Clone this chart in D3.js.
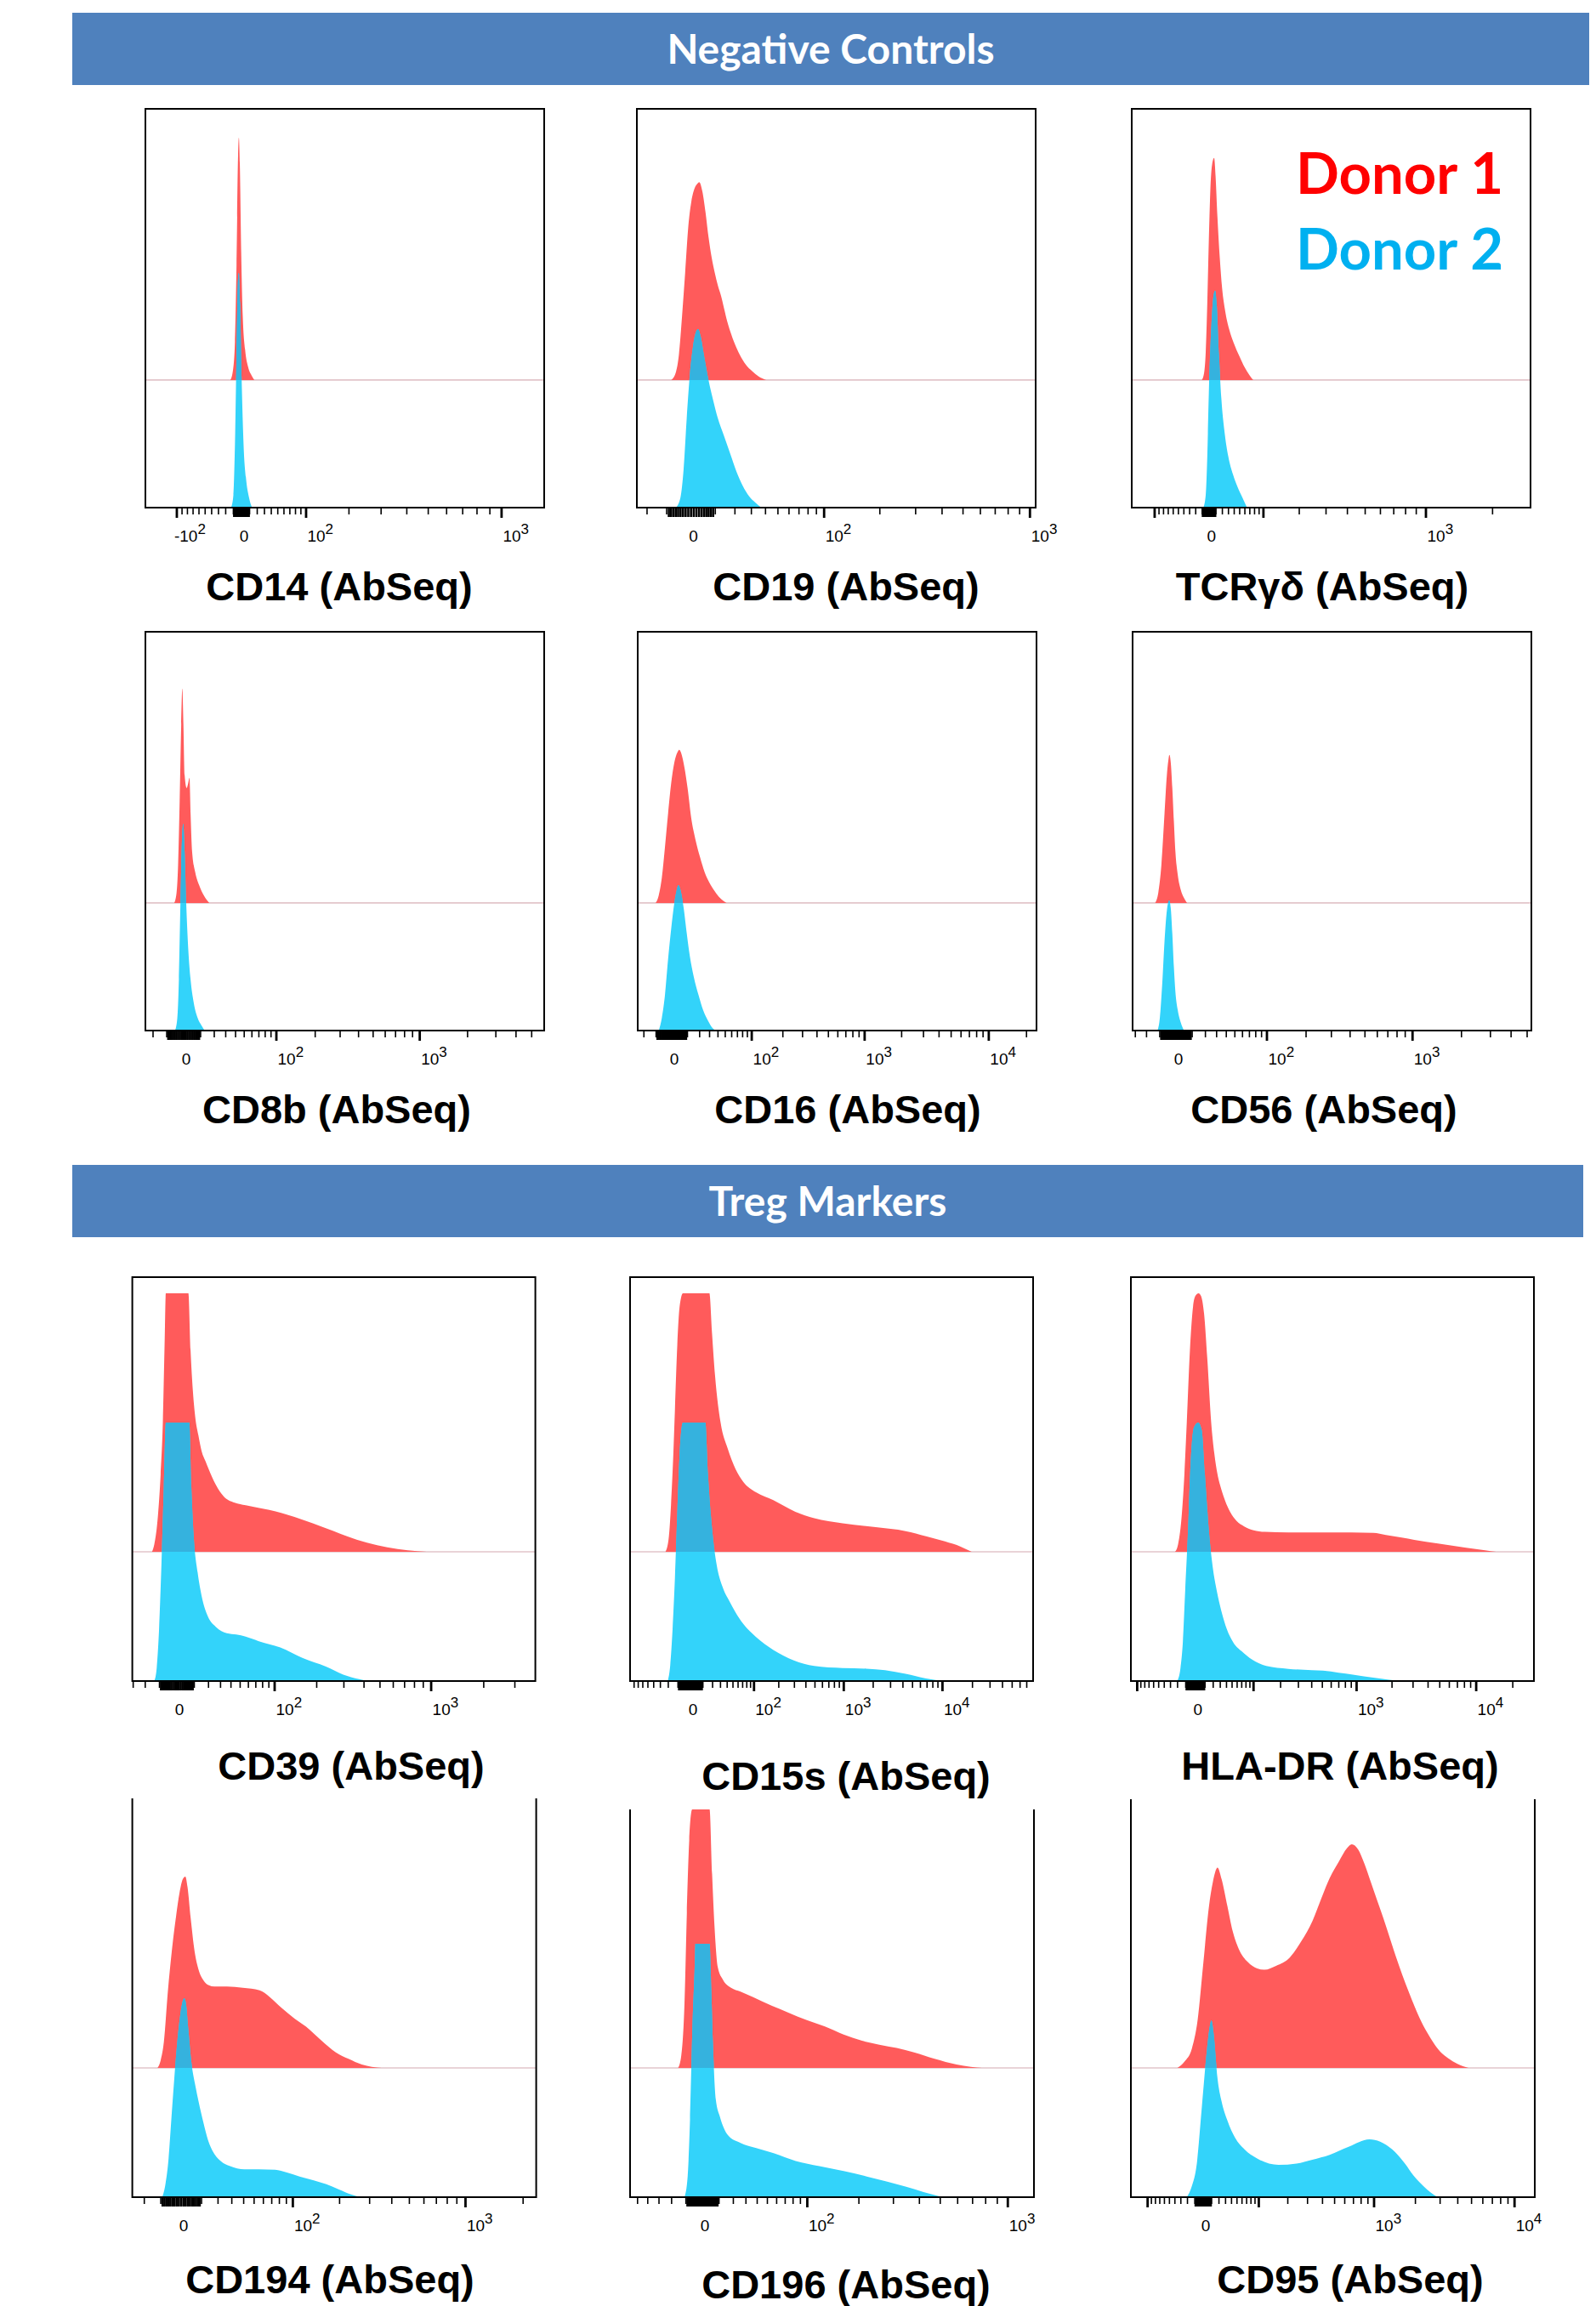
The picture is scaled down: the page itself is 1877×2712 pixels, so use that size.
<!DOCTYPE html>
<html><head><meta charset="utf-8">
<script src="https://cdn.jsdelivr.net/npm/d3@7"></script>
<style>html,body{margin:0;padding:0;background:#fff}</style>
</head><body>
<svg id="chart" width="1877" height="2712"></svg>
<script>
// ================= DATA =================
const markers = ["CD14","CD19","TCRgd","CD8b","CD16","CD56","CD39","CD15s","HLADR","CD194","CD196","CD95"];
const titles = ["CD14 (AbSeq)","CD19 (AbSeq)","TCRγδ (AbSeq)","CD8b (AbSeq)","CD16 (AbSeq)","CD56 (AbSeq)",
                "CD39 (AbSeq)","CD15s (AbSeq)","HLA-DR (AbSeq)","CD194 (AbSeq)","CD196 (AbSeq)","CD95 (AbSeq)"];
const sectionTitles = ["Negative Controls","Treg Markers"];
const seriesNames = ["Donor 1","Donor 2"];

// biexponential-like display axis (symlog) per panel: linear width constant and intensity extent
const axisConstant = [154, 37, 150, 37, 30, 40, 40, 30, 50, 37, 59, 70];
const axisMin = [-170, -26, -160, -26.5, -26, -32.7, -30.8, -90.7, -119, -28.6, -58, -152];
const axisMax = [1451, 1060, 2921, 5972, 24030, 5303, 3912, 81060, 29850, 2338, 1297, 13840];
const tickLabelValues = [
  [-100, 0, 100, 1000], [0, 100, 1000], [0, 1000],
  [0, 100, 1000], [0, 100, 1000, 10000], [0, 100, 1000],
  [0, 100, 1000], [0, 100, 1000, 10000], [0, 1000, 10000],
  [0, 100, 1000], [0, 100, 1000], [0, 1000, 10000]
];

// histograms: [display channel (0-256), % of mode]
const d1_CD14 = [[54.5,0],[56,3],[57.5,15],[58.5,45],[59.5,88],[60,95],[60.6,85],[61.5,50],[62.5,25],[64,12],[66,5],[68,2],[70,0]];
const d2_CD14 = [[55,0],[56.5,5],[57.5,25],[58.5,60],[59.5,90],[60,92],[60.8,80],[61.8,50],[63,25],[64.5,12],[66.5,4],[68.5,0]];
const d1_CD19 = [[22,0],[25,3],[27,10],[29,25],[31,42],[33,60],[35,70],[37,75],[39,77],[40,77.5],[42,74],[44,66],[46,56],[48,48],[50,42],[52,37],[54,33],[56,28],[58,23],[60,19],[63,14],[66,10],[70,6],[74,3.5],[78,1.5],[83,0]];
const d2_CD19 = [[25,0],[28,4],[30,15],[32,35],[34,52],[36,63],[38,69],[39.3,70],[41,67],[43,60],[46,50],[49,42],[52,35],[56,28],[60,21],[64,14],[68,8.5],[72,4.5],[76,2],[80,0]];
const d1_TCRgd = [[45,0],[46.5,3],[47.5,11],[48.5,30],[49.5,55],[50.5,75],[51.5,84],[52.9,87],[53.8,80],[55,64],[56.5,48],[58,36],[60,27],[62.5,20],[65.5,14.5],[69,9.5],[72.5,5],[75.5,2],[78,0]];
const d2_TCRgd = [[46,0],[47.5,5],[48.5,20],[49.5,45],[51,70],[52.5,83],[53.5,85],[54.5,80],[56,60],[57.5,43],[59.5,30],[62,20],[65,13],[68,8],[71,4],[74,0]];
const d1_CD8b = [[18.5,0],[20,4],[21,15],[22,40],[23,70],[23.7,84],[24.4,70],[25.2,50],[26.5,45],[27.5,47],[28.3,49],[29,35],[30,20],[32,12],[34.5,7],[37.5,3],[41,0]];
const d2_CD8b = [[19,0],[20.5,5],[21.5,20],[22.5,50],[23.5,75],[24.3,81],[25.2,70],[26.2,50],[27.5,32],[29,20],[31,11],[33.5,5],[36,2],[38,0]];
const d1_CD16 = [[11.5,0],[13.5,3],[15.5,10],[17.5,22],[19.5,35],[21.5,47],[23.5,55],[25.5,59],[26.7,60],[28,58.5],[30,53],[32,45],[34.4,33],[37,25],[40,18],[43,12],[46,8],[49,5],[52,2.5],[55,0.8],[57,0]];
const d2_CD16 = [[13.5,0],[15.5,5],[17.5,14],[19.5,28],[21.5,40],[23.5,50],[25,55],[26.1,57],[27.5,55],[29.5,48],[31.5,38],[33.5,29],[36,21],[39,14],[42,8],[45,4],[48,1],[50,0]];
const d1_CD56 = [[14.5,0],[16.5,4],[18.5,15],[20.5,35],[22,50],[23,56],[23.6,58],[24.5,55],[25.5,45],[26.5,32],[27.5,20],[29,11],[31,5],[33,2],[35,0]];
const d2_CD56 = [[16,0],[17.5,5],[19,18],[20.5,35],[22,47],[23.5,51],[24.5,48],[25.5,38],[26.5,25],[27.5,15],[29,8],[31,3],[33,0]];
const d1_CD39 = [[12.5,0],[14,3],[16,12],[18,30],[19.4,50],[20.5,80],[21.3,100],[35.6,100],[37,78],[38.5,62],[40,52],[42,45],[44,39],[46.5,35],[48.5,32],[53,26],[58,21.5],[65,19],[72,18],[80,17],[87,16.2],[95,15],[103,13.5],[110,12],[120,9.8],[128,8],[136,6.1],[149,3.5],[162,1.7],[175,0.6],[187,0]];
const d2_CD39 = [[14,0],[15.5,5],[17,20],[18.5,45],[20,75],[21.3,100],[36.2,100],[37.5,75],[39,56],[41.5,42],[44,33],[48,25],[53,21],[60,18.5],[66,18],[72,17.2],[80,15.5],[94,13],[108,9],[123,5.6],[134,2.5],[144,0.7],[149,0]];
const d1_CD15s = [[22.5,0],[24.5,5],[26,18],[27.5,38],[28.5,55],[30,80],[31.5,95],[33.6,100],[50.4,100],[52,85],[54,68],[57.5,50],[62,40],[67,32],[72,27],[80,23],[91,20],[105,15.5],[117,13],[135,11],[156,9.5],[175,8],[188,6],[200,4],[210,2],[217,0]];
const d2_CD15s = [[24,0],[25.5,6],[27,20],[28.5,40],[30,65],[31.5,88],[33.6,100],[47.8,100],[49.5,80],[52.4,57],[55,45],[59,36],[63,31],[66.6,27],[72,22],[80,17],[91,12],[104,8],[117,5.8],[135,5],[150,4.8],[162,4.2],[175,2.8],[188,1],[198,0]];
const d1_HLADR = [[28,0],[30,3],[32,12],[34,30],[35.5,50],[37.5,78],[39.5,95],[41,99],[43,100],[44.5,99],[46.5,92],[48.5,75],[51,50],[53,38],[55,30],[57.5,24],[60,19.5],[63,15.5],[67,12],[72,9.8],[78,8.3],[85,7.7],[100,7.5],[120,7.5],[140,7.5],[154,7.3],[162,6.5],[172,5.5],[180,4.6],[195,3.2],[213,1.6],[225,0.6],[232,0]];
const d2_HLADR = [[29.5,0],[31.5,5],[33,15],[34.5,35],[36.2,57],[38,85],[40,98],[42.7,100],[45,97],[47,80],[49.7,57],[52,44],[54.5,35],[57.5,27],[61,20],[65,15],[70.4,11.5],[77,8.3],[86,5.8],[100,4.7],[115,4.2],[122,4],[132,3.2],[141,2.5],[155,1.2],[171,0]];
const d1_CD194 = [[16,0],[18,3],[20,10],[22.6,30],[25,45],[27.8,59],[30,68],[32,73],[33.6,74],[35,70],[37,58],[39.5,45],[42,38],[45,34],[48.5,32],[52,31.5],[60,31.5],[70,31],[80.7,30],[87,27.5],[95,23],[103,19],[110,16],[120,10.5],[129,6],[137,3.5],[145.5,1.3],[158,0]];
const d2_CD194 = [[19,0],[21,5],[23,15],[24.5,28],[26.5,45],[28.5,60],[30.5,71],[32,76],[33,77],[34,75],[35.5,65],[37.5,52],[40,43],[42,37],[45,29],[48,22],[51.7,17],[56,14],[62,12],[71,10.8],[80,10.8],[90.5,10.6],[98,9.5],[106,8],[115,6.5],[123,5],[131,3],[139,1],[145,0]];
const d1_CD196 = [[30.5,0],[32.5,5],[34.5,25],[36,60],[37.5,88],[39.4,100],[50.4,100],[52,75],[53.5,55],[55.6,39],[59,34],[64,31],[70,29.5],[78,27.4],[90,24],[100,21.5],[112,18.5],[123.5,16],[135,13],[147,10.5],[158,9],[169,7.7],[180,6],[193,3.5],[207,1.3],[216,0.4],[223,0]];
const d2_CD196 = [[34.5,0],[36.5,8],[38,30],[39.5,65],[41,90],[41.4,98],[50.4,98],[51.5,80],[52.5,60],[54.3,38],[57,31],[62,24],[70,21],[80,19],[91,17],[105,14],[120,12],[136,10],[150,8],[163,6],[175,4],[186,2],[198,0]];
const d1_CD95 = [[29.5,0],[34,2.5],[38.7,7.6],[42.3,18.5],[45.9,40.5],[49.5,62.5],[52,72],[54.9,77.5],[57.5,73],[61.2,62.5],[64.5,53],[68.4,46],[74,41],[80,38.5],[84.6,38],[92,39.5],[100.8,42.8],[108,49],[115.2,57],[121,66],[126,73.4],[132,80],[137,85],[140,86.5],[144,84.5],[148,79],[152,72],[156,65],[160,58],[164,50.5],[168,43],[172,36],[176,29.6],[180,23.5],[184,18],[188,13.5],[192,9.5],[196,6.3],[201,3.8],[207,1.6],[214,0]];
const d2_CD95 = [[35.5,0],[38.5,4],[41.8,13],[45,35],[48.2,57],[50,66],[51,68.4],[52.5,63],[54.9,46],[57.5,37],[61.2,29.6],[66,23],[72,18.5],[80,15],[93.6,12.5],[105,13],[115,14.5],[126,16.4],[138,19.5],[151.2,22.4],[158,21.5],[165.6,18.5],[173.7,13],[179,8.5],[185.4,4.3],[190,1.8],[194.5,0]];

const donor1 = [d1_CD14,d1_CD19,d1_TCRgd,d1_CD8b,d1_CD16,d1_CD56,d1_CD39,d1_CD15s,d1_HLADR,d1_CD194,d1_CD196,d1_CD95];
const donor2 = [d2_CD14,d2_CD19,d2_TCRgd,d2_CD8b,d2_CD16,d2_CD56,d2_CD39,d2_CD15s,d2_HLADR,d2_CD194,d2_CD196,d2_CD95];

// ================= LAYOUT / STYLE =================
const rowTop = [128, 743, 1502, 2109];
const rowH = [469, 469, 475, 475];
const colLeft = [[171, 749, 1331], [171, 750, 1332], [155.6, 741, 1330], [155.6, 741, 1330]];
const colW = [469, 469, 474, 475];
const row4LineTop = [2115, 2128, 2116];
const titlePos = [[399,706],[995,706],[1555,706],[396,1321],[997,1321],[1557,1321],
                  [413,2093],[995,2105],[1576,2093],[388,2697],[995,2703],[1588,2697]];
const banners = [{x0:85, x1:1869, y0:15, y1:100}, {x0:85, x1:1862, y0:1370, y1:1455}];
const RED = "#FF5B5B", BLUE = "#33D3FA", OVERLAP = "#35B2DE";
const TITLE_FONT = "'Liberation Sans', Arial, sans-serif";
const TICK_FONT = "'Liberation Sans Narrow', 'Arial Narrow', 'Liberation Sans', sans-serif";
const BANNER_FONT = "Lato, 'Open Sans', sans-serif";

const svg = d3.select("#chart");
const defs = svg.append("defs");

// banners
banners.forEach((b, i) => {
  svg.append("rect").attr("x", b.x0).attr("y", b.y0).attr("width", b.x1 - b.x0).attr("height", b.y1 - b.y0)
    .attr("fill", "#4F81BD");
  svg.append("text").attr("x", (b.x0 + b.x1) / 2).attr("y", b.y0 + 60)
    .attr("text-anchor", "middle").attr("fill", "#fff")
    .style("font-family", BANNER_FONT).style("font-weight", "700").style("font-size", "48px")
    .text(sectionTitles[i]);
});

// tick values on the biexponential axis
const tickMultipliers = [1,2,3,4,5,6,7,8,9];
const tickPowers = [1,10,100,1000,10000];

markers.forEach((m, i) => {
  const r = Math.floor(i / 3), c = i % 3;
  const L = colLeft[r][c], W = colW[r], T = rowTop[r], H = rowH[r], B = T + H;
  const mid = B - 0.32 * H;
  const peak = 0.64 * H;
  const x = d3.scaleLinear().domain([0, 256]).range([L, L + W]);
  const yRed = d3.scaleLinear().domain([0, 100]).range([mid, mid - peak]);
  const yBlue = d3.scaleLinear().domain([0, 100]).range([B, B - peak]);
  const axis = d3.scaleSymlog().constant(axisConstant[i]).domain([axisMin[i], axisMax[i]]).range([L, L + W]);

  const g = svg.append("g");
  const clipId = "clip" + i;
  const cTop = r === 3 ? row4LineTop[c] : T;
  defs.append("clipPath").attr("id", clipId).append("rect")
    .attr("x", L).attr("y", cTop).attr("width", W).attr("height", B - cTop);
  const plot = g.append("g").attr("clip-path", `url(#${clipId})`);

  plot.append("line").attr("x1", L).attr("x2", L + W).attr("y1", mid).attr("y2", mid)
    .attr("stroke", "#E2C5CA").attr("stroke-width", 1.6);

  const areaRed = d3.area().curve(d3.curveMonotoneX).x(d => x(d[0])).y0(mid).y1(d => yRed(d[1]));
  const areaBlue = d3.area().curve(d3.curveMonotoneX).x(d => x(d[0])).y0(B).y1(d => yBlue(d[1]));

  const redPath = areaRed(donor1[i]);
  const bluePath = areaBlue(donor2[i]);
  plot.append("path").attr("d", redPath).attr("fill", RED);
  plot.append("path").attr("d", bluePath).attr("fill", BLUE);
  const ovId = "ov" + i;
  defs.append("clipPath").attr("id", ovId).append("path").attr("d", redPath);
  plot.append("g").attr("clip-path", `url(#${ovId})`)
    .append("path").attr("d", bluePath).attr("fill", OVERLAP);

  // frame
  if (r < 3) {
    g.append("rect").attr("x", L).attr("y", T).attr("width", W).attr("height", H)
      .attr("fill", "none").attr("stroke", "#000").attr("stroke-width", 2);
  } else {
    g.append("path").attr("d", `M${L},${cTop}V${B}H${L + W}V${cTop}`)
      .attr("fill", "none").attr("stroke", "#000").attr("stroke-width", 2);
  }

  // ticks
  const [dmin, dmax] = axis.domain();
  const tg = g.append("g");
  const vals = [0];
  tickPowers.forEach(p => tickMultipliers.forEach(k => { vals.push(k * p); vals.push(-k * p); }));
  vals.filter(v => v >= dmin && v <= dmax).forEach(v => {
    const av = Math.abs(v);
    const decade = av >= 100 && Math.abs(Math.log10(av) - Math.round(Math.log10(av))) < 1e-9;
    const nearZero = av < 10;
    const px = axis(v);
    if (px < L + 1 || px > L + W - 1) return;
    const len = decade ? 12 : (nearZero ? 11 : 8);
    const sw = decade ? 2.8 : (nearZero ? 2.6 : 1.6);
    tg.append("line").attr("x1", px).attr("x2", px).attr("y1", B).attr("y2", B + len)
      .attr("stroke", "#000").attr("stroke-width", sw);
  });

  // tick labels
  tickLabelValues[i].forEach(v => {
    const px = axis(v);
    const t = tg.append("text").attr("y", B + 40)
      .style("font-family", TICK_FONT).style("font-size", "19px").attr("fill", "#000");
    if (v === 0) {
      t.attr("x", px + 3).attr("text-anchor", "middle").text("0");
    } else {
      const e = Math.round(Math.log10(Math.abs(v)));
      t.attr("x", px + (v < 0 ? -3 : 1.5)).attr("text-anchor", "start");
      t.append("tspan").text(v < 0 ? "-10" : "10");
      t.append("tspan").attr("dy", -9).style("font-size", "17px").text(e);
    }
  });

  // title
  svg.append("text").attr("x", titlePos[i][0]).attr("y", titlePos[i][1]).attr("text-anchor", "middle")
    .style("font-family", TITLE_FONT).style("font-weight", "700").style("font-size", "47px")
    .attr("fill", "#000").text(titles[i]);
});

// legend
const legendColors = ["#FF0000", "#00B0F0"];
seriesNames.forEach((s, i) => {
  svg.append("text").attr("x", 1524).attr("y", 228 + i * 89)
    .style("font-family", BANNER_FONT).style("font-weight", "700").style("font-size", "67px")
    .attr("fill", legendColors[i]).text(s);
});
</script>
</body></html>
